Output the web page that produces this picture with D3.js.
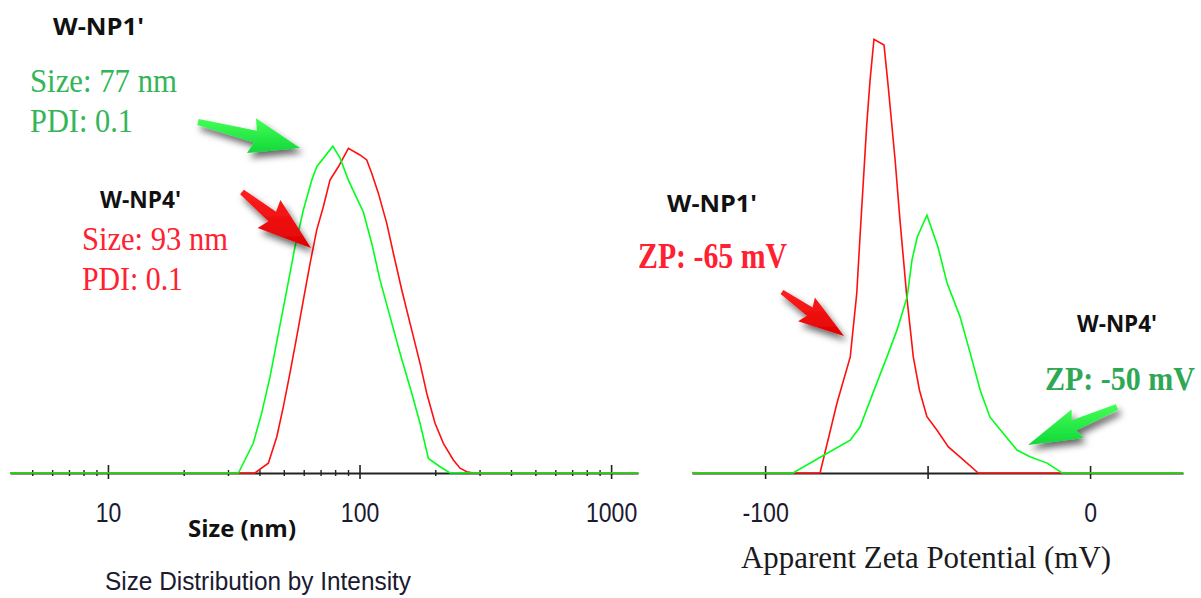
<!DOCTYPE html>
<html><head><meta charset="utf-8">
<script src="https://cdn.jsdelivr.net/npm/d3@7"></script>
<style>
html,body{margin:0;padding:0;background:#fff;}
svg{display:block;}
</style></head><body>
<svg id="c" width="1201" height="598"></svg>
<script>
// ---------- data ----------
// Size distribution by intensity (size in nm, intensity in %)
const sizeNP1 = [4.08, 33.0, 37.8, 40.8, 44.1, 47.6, 51.4, 55.4, 59.8, 64.6, 67.6, 78.3, 83.7, 90.3, 97.5, 103.5, 111.8, 120.6, 132.2, 144.9, 161.3, 174.0, 187.8, 209.0, 229.0, 1279];
const intensityNP1 = [0, 0, 1.18, 2.37, 3.83, 5.56, 7.28, 9.0, 10.46, 11.65, 12.18, 13.0, 12.52, 11.65, 10.93, 10.39, 9.14, 7.68, 6.22, 4.76, 3.17, 1.98, 0.58, 0.25, 0, 0];
const sizeNP4 = [4.08, 38.4, 43.4, 46.9, 49.8, 52.9, 56.3, 59.8, 63.6, 67.6, 71.8, 76.3, 82.4, 90.3, 100.4, 106.8, 111.8, 118.8, 128.3, 136.3, 147.2, 158.8, 174.0, 185.0, 199.6, 215.4, 236.0, 250.9, 266.8, 283.5, 1279];
const intensityNP4 = [0, 0, 0.39, 1.44, 2.64, 3.97, 5.42, 6.88, 8.34, 9.67, 10.59, 11.65, 12.18, 12.91, 12.65, 12.45, 11.92, 11.13, 9.93, 8.74, 7.28, 5.95, 4.36, 3.17, 1.98, 1.18, 0.52, 0.19, 0.05, 0, 0];
// Apparent zeta potential (mV) vs relative counts
const zetaNP1 = [-122.5, -83.1, -77.9, -73.8, -71.8, -70.8, -68.7, -67.7, -66.5, -63.4, -62.1, -60.0, -58.5, -56.4, -54.4, -52.5, -50.2, -47.2, -43.6, -39.0, -34.4, 28.6];
const countsNP1 = [0, 0, 15.5, 25.8, 39.9, 52.5, 77.7, 87.3, 96.4, 95.1, 85.8, 69.6, 56.2, 39.2, 25.8, 18.4, 12.5, 9.6, 5.8, 2.9, 0, 0];
const zetaNP4 = [-122.5, -91.4, -80.9, -73.8, -70.8, -66.8, -62.5, -59.4, -56.3, -54.8, -53.2, -50.2, -46.8, -44.0, -40.0, -36.9, -33.8, -30.8, -26.8, -22.5, -18.5, -13.2, -8.6, 28.6];
const countsNP4 = [0, 0, 4.4, 7.3, 10.2, 17.8, 25.8, 31.8, 39.1, 47.3, 52.4, 57.3, 50.2, 42.2, 34.7, 26.7, 18.4, 12.4, 8.9, 5.1, 3.6, 2.2, 0, 0];
// ticks
const sizeMajorTicks = [10, 100, 1000];
const sizeMinorTicks = [5, 6, 7, 8, 9, 20, 30, 40, 50, 60, 70, 80, 90, 200, 300, 400, 500, 600, 700, 800, 900];
const zetaTicks = [-100, -50, 0];
const zetaTickLabels = ["-100", "", "0"];
// annotation texts
const sampleNames = ["W-NP1'", "W-NP4'"];
const sizeTexts = ["Size: 77 nm", "Size: 93 nm"];
const pdiTexts = ["PDI: 0.1", "PDI: 0.1"];
const zpTexts = ["ZP: -65 mV", "ZP: -50 mV"];

// ---------- drawing ----------
const GREEN = "#00ff1a", RED = "#ff1010";
const TXT_GREEN = "#33b558", TXT_RED = "#ff2030";
const svg = d3.select("#c");
svg.append("rect").attr("width",1201).attr("height",598).attr("fill","#fff");

const defs = svg.append("defs");
const f = defs.append("filter").attr("id","sh").attr("x","-50%").attr("y","-50%").attr("width","200%").attr("height","200%");
f.append("feDropShadow").attr("dx",3).attr("dy",5).attr("stdDeviation",3.5).attr("flood-color","#000").attr("flood-opacity",0.6);
function grad(id, c1, c2){
  const g = defs.append("linearGradient").attr("id",id).attr("x1",0).attr("y1",0).attr("x2",0).attr("y2",1);
  g.append("stop").attr("offset","0%").attr("stop-color",c1);
  g.append("stop").attr("offset","100%").attr("stop-color",c2);
}
grad("gG","#44ff55","#10d83a");
grad("gR","#ff2020","#e00000");

const narrow = "'Liberation Sans Narrow','Arial Narrow','Liberation Sans',sans-serif";
const bold = "'Open Sans',Lato,sans-serif";
const serif = "'Liberation Serif','Times New Roman',serif";
const labelLen = s => s.replace("-","").length*12.8 + (s.indexOf("-")>=0 ? 8 : 0);

// ---- left panel: size ----
const xSize = d3.scaleLog().domain([4.08, 1279]).range([10, 638]);
const ySize = d3.scaleLinear().domain([0, 14]).range([473, 121]);

const axL = svg.append("g").attr("transform","translate(0,473)")
  .call(d3.axisBottom(xSize).tickValues(sizeMajorTicks).tickFormat(d3.format("d")).tickSizeOuter(0));
axL.select(".domain").attr("stroke","#222").attr("stroke-width",2.2);
axL.selectAll(".tick line").attr("stroke","#222").attr("stroke-width",1.6).attr("y1",-8).attr("y2",6);
axL.selectAll(".tick text").attr("y",49).attr("dy",0).attr("fill","#1a1a30")
  .style("font-family",narrow).style("font-size","27px")
  .attr("textLength",function(){return labelLen(this.textContent);}).attr("lengthAdjust","spacingAndGlyphs");
const axLm = svg.append("g").attr("transform","translate(0,473)")
  .call(d3.axisBottom(xSize).tickValues(sizeMinorTicks).tickFormat("").tickSizeOuter(0));
axLm.select(".domain").remove();
axLm.selectAll(".tick line").attr("stroke","#222").attr("stroke-width",1.4).attr("y1",-3).attr("y2",3);

const lineSize = d3.line().x(d=>xSize(d[0])).y(d=>ySize(d[1]));
svg.append("path").datum(d3.zip(sizeNP4, intensityNP4)).attr("d",lineSize)
  .attr("fill","none").attr("stroke",RED).attr("stroke-width",1.6);
svg.append("path").datum(d3.zip(sizeNP1, intensityNP1)).attr("d",lineSize)
  .attr("fill","none").attr("stroke",GREEN).attr("stroke-width",1.6);

// ---- right panel: zeta ----
const xZeta = d3.scaleLinear().domain([-122.5, 28.6]).range([692, 1183]);
const yZeta = d3.scaleLinear().domain([0, 100]).range([473, 23]);
const axR = svg.append("g").attr("transform","translate(0,473)")
  .call(d3.axisBottom(xZeta).tickValues(zetaTicks).tickFormat((d,i)=>zetaTickLabels[i]).tickSizeOuter(0));
axR.select(".domain").attr("stroke","#222").attr("stroke-width",2.2);
axR.selectAll(".tick line").attr("stroke","#222").attr("stroke-width",1.6).attr("y1",-7).attr("y2",6);
axR.selectAll(".tick text").filter(function(){return this.textContent.length>0;})
  .attr("y",49).attr("dy",0).attr("fill","#1a1a30")
  .style("font-family",narrow).style("font-size","27px")
  .attr("textLength",function(){return labelLen(this.textContent);}).attr("lengthAdjust","spacingAndGlyphs");

const lineZeta = d3.line().x(d=>xZeta(d[0])).y(d=>yZeta(d[1]));
svg.append("path").datum(d3.zip(zetaNP1, countsNP1)).attr("d",lineZeta)
  .attr("fill","none").attr("stroke",RED).attr("stroke-width",1.6);
svg.append("path").datum(d3.zip(zetaNP4, countsNP4)).attr("d",lineZeta)
  .attr("fill","none").attr("stroke",GREEN).attr("stroke-width",1.6);

// ---- arrows ----
function arrowPath(t, h, o){
  const dx=h[0]-t[0], dy=h[1]-t[1], L=Math.hypot(dx,dy), ux=dx/L, uy=dy/L, nx=-uy, ny=ux;
  const bx=h[0]-ux*o.headL, by=h[1]-uy*o.headL;
  const pts=[[t[0]+nx*o.tailW/2,t[1]+ny*o.tailW/2],[bx+nx*o.shaftW/2,by+ny*o.shaftW/2],
    [bx+nx*o.headW/2-ux*4,by+ny*o.headW/2-uy*4],h,[bx-nx*o.headW/2-ux*4,by-ny*o.headW/2-uy*4],
    [bx-nx*o.shaftW/2,by-ny*o.shaftW/2],[t[0]-nx*o.tailW/2,t[1]-ny*o.tailW/2]];
  return "M"+pts.map(p=>p[0].toFixed(1)+","+p[1].toFixed(1)).join("L")+"Z";
}
const arrows = [
  {t:[198,122], h:[300,148], headL:46, headW:36, shaftW:12, tailW:6, fill:"url(#gG)"},
  {t:[242,192], h:[311,248], headL:50, headW:36, shaftW:12, tailW:6, fill:"url(#gR)"},
  {t:[782,292], h:[844,336], headL:42, headW:29, shaftW:10, tailW:5, fill:"url(#gR)"},
  {t:[1117,407], h:[1028,445], headL:50, headW:31, shaftW:11, tailW:6, fill:"url(#gG)"}
];
svg.selectAll("path.arrow").data(arrows).enter().append("path").attr("class","arrow")
  .attr("d",d=>arrowPath(d.t,d.h,d)).attr("fill",d=>d.fill).attr("filter","url(#sh)");

// ---- texts ----
function txt(x,y,s,opt){
  const t = svg.append("text").attr("x",x).attr("y",y).text(s)
    .style("font-family",opt.ff).style("font-size",opt.fs+"px").style("font-weight",opt.fw||400)
    .attr("fill",opt.fill||"#111");
  if(opt.len){ t.attr("textLength",opt.len).attr("lengthAdjust","spacingAndGlyphs"); }
  if(opt.anchor){ t.attr("text-anchor",opt.anchor); }
  return t;
}
// left panel
txt(53,35,sampleNames[0],{ff:bold,fs:24,fw:700,len:91});
txt(30,92,sizeTexts[0],{ff:serif,fs:33,fill:TXT_GREEN,len:147});
txt(30,132,pdiTexts[0],{ff:serif,fs:33,fill:TXT_GREEN,len:103});
txt(100,208,sampleNames[1],{ff:bold,fs:24,fw:700,len:81});
txt(82,250,sizeTexts[1],{ff:serif,fs:33,fill:TXT_RED,len:146});
txt(82,290,pdiTexts[1],{ff:serif,fs:33,fill:TXT_RED,len:101});
txt(242,537,"Size (nm)",{ff:bold,fs:24,fw:700,anchor:"middle",len:108});
txt(258,590,"Size Distribution by Intensity",{ff:narrow,fs:25,fill:"#1a1a30",anchor:"middle",len:306});
// right panel
txt(667,212,sampleNames[0],{ff:bold,fs:24,fw:700,len:90});
txt(638,268,zpTexts[0],{ff:serif,fs:35,fw:700,fill:TXT_RED,len:149});
txt(1077,332,sampleNames[1],{ff:bold,fs:24,fw:700,len:80});
svg.append("text").attr("transform","translate(1045,390) scale(1,1.15)").text(zpTexts[1])
  .style("font-family",serif).style("font-size","30px").style("font-weight",700).attr("fill","#2fa856");
txt(926,568,"Apparent Zeta Potential (mV)",{ff:serif,fs:32,fill:"#1a1a20",anchor:"middle",len:370});
</script>
</body></html>
